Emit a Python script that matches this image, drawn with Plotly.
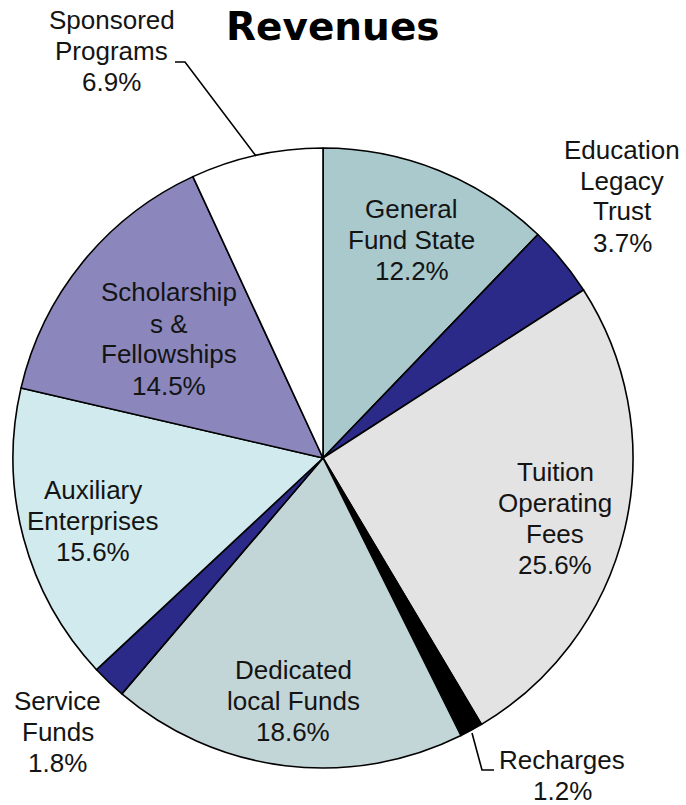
import plotly.graph_objects as go

# Revenue shares (%) in clockwise order from 12 o'clock
categories = [
    "General Fund State",
    "Education Legacy Trust",
    "Tuition Operating Fees",
    "Recharges",
    "Dedicated local Funds",
    "Service Funds",
    "Auxiliary Enterprises",
    "Scholarships & Fellowships",
    "Sponsored Programs",
]
shares = [12.2, 3.7, 25.6, 1.2, 18.6, 1.8, 15.6, 14.5, 6.9]

# Label wording as printed, one entry per text line
label_lines = [
    ["General", "Fund State"],
    ["Education", "Legacy", "Trust"],
    ["Tuition", "Operating", "Fees"],
    ["Recharges"],
    ["Dedicated", "local Funds"],
    ["Service", "Funds"],
    ["Auxiliary", "Enterprises"],
    ["Scholarship", "s &", "Fellowships"],
    ["Sponsored", "Programs"],
]

slice_colors = [
    "#a9c9cc", "#2b2a88", "#e3e3e3", "#000000", "#c2d5d7",
    "#2b2a88", "#d0eaee", "#8b87bd", "#ffffff",
]

W, H = 686, 805
CX, CY, R = 323, 458, 310  # pie centre and radius in pixels
LINE_GAP = 31              # label line spacing in pixels

# Label block centres in pixels
label_pos = [
    (412, 240), (622, 196), (555, 518), (562, 775), (293, 701),
    (58, 732), (93, 521), (169, 339), (112, 51),
]


def px(x):
    return x / W


def py(y):
    return 1 - y / H


fig = go.Figure(
    go.Pie(
        labels=categories,
        values=shares,
        sort=False,
        direction="clockwise",
        rotation=0,
        marker=dict(colors=slice_colors, line=dict(color="#000000", width=1.6)),
        textinfo="none",
        hoverinfo="label+percent",
        showlegend=False,
        domain=dict(
            x=[px(CX - R), px(CX + R)],
            y=[py(CY + R), py(CY - R)],
        ),
    )
)

annotations = [
    dict(
        text="<b>Revenues</b>",
        x=px(333), y=py(27), xref="paper", yref="paper",
        xanchor="center", yanchor="middle", showarrow=False,
        font=dict(family="DejaVu Sans", size=39, color="#000000"),
    )
]
for lines, val, (lx, ly) in zip(label_lines, shares, label_pos):
    rows = lines + [f"{val:.1f}%"]
    n = len(rows)
    for i, row in enumerate(rows):
        yy = ly + (i - (n - 1) / 2) * LINE_GAP
        annotations.append(
            dict(
                text=row,
                x=px(lx), y=py(yy), xref="paper", yref="paper",
                xanchor="center", yanchor="middle", showarrow=False,
                font=dict(family="Liberation Sans, Arial", size=26, color="#141414"),
            )
        )

# Leader lines for the two outside labels
leaders = [
    [(175, 62), (185, 62), (256, 156)],
    [(472, 733), (482, 770), (494, 770)],
]
shapes = []
for pts in leaders:
    path = "M " + " L ".join(f"{px(x):.5f},{py(y):.5f}" for x, y in pts)
    shapes.append(
        dict(type="path", path=path, xref="paper", yref="paper",
             line=dict(color="#000000", width=1.6))
    )

fig.update_layout(
    width=W,
    height=H,
    margin=dict(l=0, r=0, t=0, b=0),
    paper_bgcolor="#ffffff",
    plot_bgcolor="#ffffff",
    annotations=annotations,
    shapes=shapes,
)

fig.write_html("out.html")
